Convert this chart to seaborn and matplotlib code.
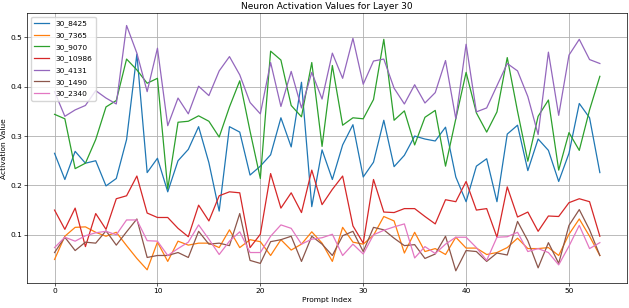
import matplotlib
matplotlib.use("Agg")
import matplotlib.pyplot as plt
import seaborn as sns
import numpy as np

series_names = ["30_8425", "30_7365", "30_9070", "30_10986", "30_4131", "30_1490", "30_2340"]

v_8425 = [0.265, 0.212, 0.269, 0.245, 0.250, 0.199, 0.214, 0.293, 0.466, 0.226,
          0.255, 0.187, 0.250, 0.273, 0.319, 0.246, 0.148, 0.319, 0.308, 0.221,
          0.239, 0.262, 0.337, 0.278, 0.409, 0.157, 0.272, 0.212, 0.282, 0.323,
          0.217, 0.247, 0.332, 0.238, 0.261, 0.300, 0.294, 0.290, 0.318, 0.217,
          0.167, 0.239, 0.254, 0.167, 0.304, 0.322, 0.230, 0.294, 0.271, 0.208,
          0.265, 0.366, 0.337, 0.226]
v_7365 = [0.050, 0.097, 0.115, 0.116, 0.105, 0.097, 0.105, 0.078, 0.052, 0.029,
          0.085, 0.046, 0.087, 0.079, 0.083, 0.083, 0.074, 0.110, 0.074, 0.090,
          0.086, 0.058, 0.090, 0.069, 0.081, 0.106, 0.083, 0.046, 0.115, 0.085,
          0.081, 0.099, 0.137, 0.128, 0.063, 0.105, 0.066, 0.072, 0.060, 0.095,
          0.073, 0.073, 0.060, 0.064, 0.074, 0.093, 0.072, 0.072, 0.074, 0.058,
          0.101, 0.132, 0.097, 0.058]
v_9070 = [0.344, 0.335, 0.234, 0.245, 0.293, 0.359, 0.372, 0.456, 0.434, 0.407,
          0.417, 0.193, 0.328, 0.330, 0.341, 0.330, 0.298, 0.359, 0.412, 0.310,
          0.214, 0.472, 0.454, 0.362, 0.339, 0.449, 0.279, 0.443, 0.322, 0.337,
          0.335, 0.374, 0.496, 0.332, 0.351, 0.282, 0.338, 0.352, 0.239, 0.335,
          0.429, 0.347, 0.308, 0.349, 0.459, 0.350, 0.249, 0.340, 0.373, 0.231,
          0.307, 0.271, 0.353, 0.421]
v_10986 = [0.150, 0.111, 0.154, 0.076, 0.143, 0.111, 0.173, 0.179, 0.219, 0.144,
           0.135, 0.135, 0.113, 0.096, 0.160, 0.128, 0.179, 0.187, 0.185, 0.074,
           0.101, 0.224, 0.154, 0.185, 0.145, 0.231, 0.161, 0.192, 0.219, 0.118,
           0.083, 0.212, 0.146, 0.145, 0.153, 0.153, 0.137, 0.122, 0.171, 0.167,
           0.208, 0.150, 0.153, 0.095, 0.197, 0.136, 0.146, 0.107, 0.138, 0.137,
           0.165, 0.173, 0.167, 0.097]
v_4131 = [0.390, 0.340, 0.353, 0.362, 0.392, 0.377, 0.365, 0.524, 0.468, 0.390,
          0.478, 0.321, 0.377, 0.345, 0.401, 0.382, 0.432, 0.461, 0.424, 0.368,
          0.345, 0.449, 0.360, 0.431, 0.357, 0.429, 0.375, 0.468, 0.417, 0.498,
          0.405, 0.452, 0.456, 0.397, 0.365, 0.404, 0.367, 0.388, 0.453, 0.335,
          0.486, 0.349, 0.357, 0.402, 0.447, 0.432, 0.380, 0.303, 0.470, 0.342,
          0.464, 0.496, 0.455, 0.447]
v_1490 = [0.064, 0.095, 0.068, 0.085, 0.083, 0.108, 0.079, 0.106, 0.132, 0.054,
          0.058, 0.058, 0.064, 0.054, 0.107, 0.081, 0.083, 0.078, 0.143, 0.048,
          0.042, 0.086, 0.090, 0.097, 0.046, 0.097, 0.081, 0.058, 0.098, 0.107,
          0.066, 0.115, 0.110, 0.093, 0.078, 0.080, 0.052, 0.061, 0.097, 0.027,
          0.068, 0.066, 0.046, 0.063, 0.059, 0.127, 0.088, 0.033, 0.084, 0.042,
          0.119, 0.151, 0.110, 0.058]
v_2340 = [0.074, 0.095, 0.087, 0.098, 0.104, 0.107, 0.100, 0.130, 0.130, 0.088,
          0.087, 0.058, 0.072, 0.085, 0.120, 0.091, 0.060, 0.087, 0.106, 0.064,
          0.064, 0.097, 0.120, 0.113, 0.081, 0.091, 0.094, 0.101, 0.058, 0.081,
          0.061, 0.100, 0.109, 0.116, 0.122, 0.053, 0.076, 0.062, 0.081, 0.095,
          0.095, 0.074, 0.048, 0.095, 0.096, 0.105, 0.066, 0.072, 0.064, 0.039,
          0.077, 0.119, 0.072, 0.084]

all_values = [v_8425, v_7365, v_9070, v_10986, v_4131, v_1490, v_2340]
prompt_index = np.arange(len(v_8425))

fig = plt.figure(figsize=(6.29, 3.08), dpi=100)
ax = fig.add_axes([0.0434, 0.081, 0.9536, 0.876])
palette = sns.color_palette("tab10", len(series_names))
for name, vals, col in zip(series_names, all_values, palette):
    sns.lineplot(x=prompt_index, y=vals, label=name, color=col, linewidth=0.9, ax=ax)

ax.set_title("Neuron Activation Values for Layer 30", fontsize=6.5, pad=3.2)
ax.set_xlabel("Prompt Index", fontsize=5.4, labelpad=2)
ax.set_ylabel("Activation Value", fontsize=5.4, labelpad=2)
ax.tick_params(labelsize=5.4, length=1.9, width=0.45, pad=1.9)
ax.set_xticks([0, 10, 20, 30, 40, 50])
ax.set_yticks([0.1, 0.2, 0.3, 0.4, 0.5])
ax.grid(True, color="#b0b0b0", linewidth=0.6)
for s in ax.spines.values():
    s.set_linewidth(0.5)
ax.legend(loc="upper left", fontsize=5.4, frameon=True, handlelength=2.0,
          borderpad=0.45, labelspacing=0.62)
fig.savefig("out.png", dpi=100)
